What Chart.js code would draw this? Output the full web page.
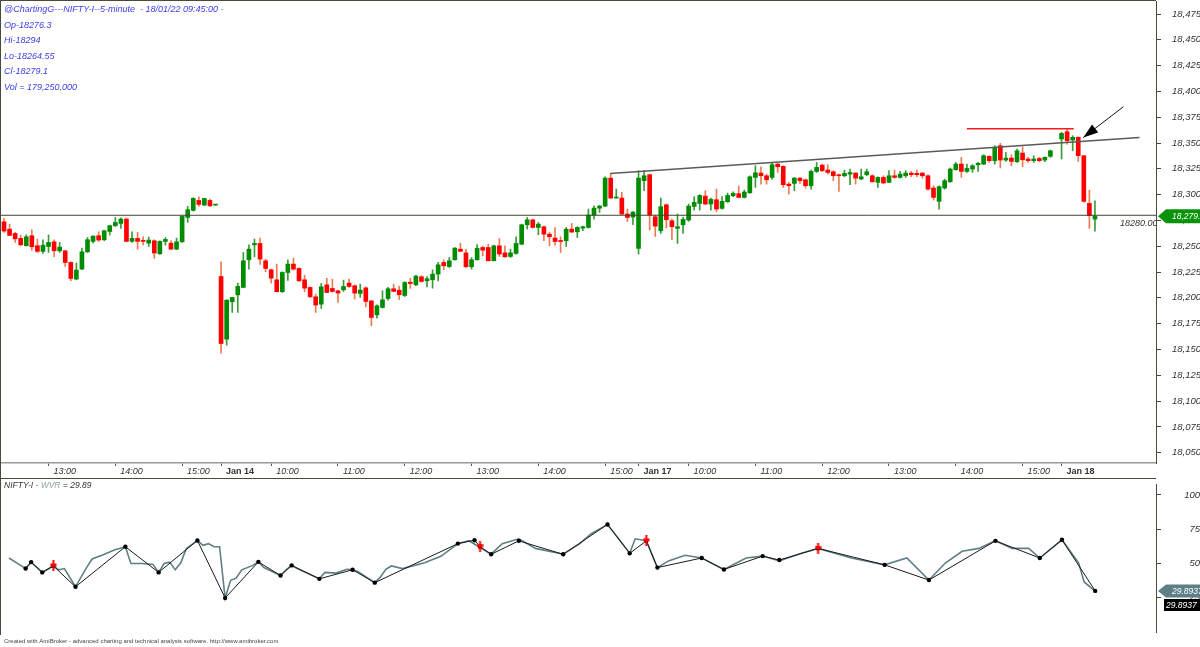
<!DOCTYPE html>
<html>
<head>
<meta charset="utf-8">
<script src="https://cdn.jsdelivr.net/npm/chart.js@4.4.1/dist/chart.umd.min.js"></script>
<style>
html, body { margin: 0; padding: 0; background: #fff; }
#wrap { position: relative; width: 1200px; height: 647px; overflow: hidden; }
canvas { position: absolute; left: 0; }
#price { top: 0; }
#wvr { top: 478px; }
</style>
</head>
<body>
<div id="wrap">
<canvas id="price" width="1200" height="478"></canvas>
<canvas id="wvr" width="1200" height="169"></canvas>
</div>
<script>
// 5-minute bars, 13 Jan 12:20 .. 18 Jan 09:45 (slot 189 is empty)
const opens = [18273.7,18266.6,18262.4,18257.6,18250.5,18260.2,18250.5,18245.0,18249.8,18254.3,18245.6,18245.6,18234.3,18218.2,18227.9,18244.6,18254.7,18260.2,18256.3,18264.3,18269.9,18272.1,18276.3,18254.7,18257.6,18255.6,18253.0,18255.3,18242.7,18254.7,18253.0,18247.2,18254.3,18277.9,18284.7,18294.4,18289.9,18294.4,18289.9,
  18220.7,18160.0,18196.2,18202.9,18210.1,18236.9,18251.4,18252.7,18235.9,18227.2,18217.5,18205.9,18224.6,18232.7,18228.5,18217.5,18210.1,18201.0,18193.9,18212.6,18209.1,18206.8,18207.8,18214.3,18211.7,18204.3,18209.7,18197.1,18183.6,18190.7,18199.4,18208.8,18207.5,18202.3,18215.2,18212.6,18220.4,18216.5,18217.5,18223.0,18234.3,18230.4,18236.9,18247.2,18243.6,18230.1,18236.9,18248.8,18248.8,18235.9,18250.4,18243.6,18240.1,18243.0,18252.0,18270.8,18275.6,18268.2,18268.9,18261.7,18257.9,18255.3,18255.3,18266.6,18264.0,18267.6,18268.2,18280.2,18286.9,18288.9,18316.0,18296.7,18296.7,18281.2,18278.3,
  18247.9,18313.5,18319.3,18278.6,18265.0,18290.2,18274.7,18267.3,18270.8,18275.4,18288.6,18291.5,18298.6,18290.9,18295.1,18286.7,18293.1,18298.9,18300.9,18297.3,18301.8,18316.7,18320.9,18318.3,18316.7,18329.6,18327.4,18310.2,18310.9,18316.0,18314.4,18308.6,18322.5,18328.6,18323.8,18322.2,18319.3,18318.3,18319.9,18320.9,18315.1,18319.3,18318.3,18311.9,18316.7,18311.9,18318.3,18316.7,18318.3,18320.9,18320.6,18320.9,18318.3,18306.4,18293.5,18306.4,18312.5,18324.1,18329.6,18322.5,18324.8,18329.0,18329.6,18337.1,18332.9,18347.4,18333.5,18335.4,18331.9,18340.3,18334.5,18332.9,18335.1,18333.5,18337.1,null,
  18353.9,18361.0,18352.9,18355.5,18337.7,18291.5,18276.3];
const highs = [18277.0,18271.5,18263.4,18260.8,18261.1,18266.0,18257.0,18256.3,18261.0,18256.3,18253.7,18245.6,18235.0,18233.7,18248.2,18258.5,18260.2,18264.0,18265.6,18270.5,18277.9,18277.6,18277.3,18264.0,18263.4,18259.2,18258.9,18256.3,18255.3,18258.5,18255.6,18257.9,18279.5,18288.6,18297.0,18297.9,18296.6,18295.7,18290.2,
  18235.0,18198.1,18200.4,18214.3,18244.0,18251.4,18257.0,18257.9,18237.5,18227.9,18232.7,18225.3,18236.9,18238.5,18229.4,18222.0,18210.7,18203.6,18214.0,18218.8,18218.1,18207.5,18217.2,18218.1,18212.6,18213.3,18210.7,18197.1,18193.3,18206.8,18210.1,18213.3,18211.3,18215.6,18219.1,18222.0,18221.4,18220.7,18227.2,18234.3,18236.9,18239.1,18248.8,18253.0,18246.9,18239.1,18251.7,18250.1,18252.0,18251.1,18257.5,18250.4,18247.2,18259.2,18271.4,18277.9,18276.3,18273.0,18269.5,18263.4,18268.2,18259.2,18268.2,18272.1,18268.9,18269.5,18286.0,18289.2,18289.6,18317.3,18319.9,18305.4,18302.2,18286.0,18283.7,
  18323.2,18323.2,18319.9,18280.2,18296.7,18290.9,18276.3,18281.2,18277.9,18290.9,18298.0,18299.9,18303.8,18296.7,18305.4,18298.0,18301.5,18302.8,18308.3,18304.4,18318.3,18328.0,18327.0,18319.9,18330.6,18330.3,18328.0,18311.8,18316.7,18316.7,18315.1,18323.8,18331.2,18329.6,18329.0,18323.2,18319.9,18323.8,18324.8,18321.2,18324.8,18324.8,18319.3,18317.3,18318.3,18323.2,18323.8,18322.5,18323.2,18322.5,18323.8,18321.5,18319.3,18308.6,18308.6,18315.1,18325.8,18331.2,18336.1,18329.6,18329.0,18331.2,18338.7,18337.7,18347.4,18349.7,18341.0,18338.7,18344.2,18346.4,18336.1,18337.7,18336.1,18336.7,18343.2,null,
  18360.3,18363.5,18357.1,18356.1,18337.7,18304.4,18294.0];
const lows = [18263.4,18260.2,18253.7,18250.5,18250.2,18246.3,18244.0,18243.0,18244.0,18240.0,18244.0,18230.4,18216.5,18217.5,18227.2,18244.0,18253.0,18254.7,18255.3,18260.8,18269.2,18267.3,18254.3,18253.7,18247.2,18251.4,18249.8,18238.2,18242.0,18251.1,18246.6,18246.6,18253.7,18273.1,18284.1,18288.6,18289.5,18288.3,18289.5,
  18146.5,18154.2,18185.9,18185.9,18210.1,18227.9,18239.8,18232.4,18225.3,18214.3,18205.9,18205.3,18217.0,18226.9,18215.9,18205.9,18200.4,18185.8,18189.7,18204.9,18205.5,18195.5,18206.2,18210.1,18198.8,18200.4,18191.3,18172.9,18180.3,18190.1,18197.8,18205.9,18198.4,18201.3,18209.1,18211.7,18215.2,18210.7,18209.4,18216.5,18227.2,18229.4,18236.6,18245.0,18229.4,18227.8,18236.6,18240.7,18235.9,18235.9,18240.1,18239.1,18239.1,18242.4,18251.4,18266.6,18267.5,18261.1,18255.3,18250.4,18251.1,18244.0,18249.8,18263.4,18258.5,18265.0,18267.6,18276.3,18282.8,18288.3,18296.0,18296.7,18280.5,18274.0,18270.8,
  18242.4,18303.8,18265.7,18259.5,18262.4,18267.6,18256.3,18252.7,18262.4,18274.1,18285.0,18285.0,18290.2,18285.0,18283.4,18286.0,18292.5,18298.0,18297.0,18296.7,18301.2,18307.0,18310.2,18310.2,18315.1,18321.5,18307.0,18300.5,18303.8,18310.9,18306.3,18305.4,18321.5,18322.5,18319.9,18313.5,18303.1,18317.3,18309.6,18310.2,18314.4,18318.3,18311.9,18307.0,18311.0,18311.5,18316.0,18316.0,18316.7,18317.4,18317.4,18316.0,18304.4,18294.7,18286.0,18305.4,18311.9,18323.8,18316.7,18321.5,18321.5,18322.5,18329.0,18331.2,18329.6,18325.8,18332.2,18328.0,18331.2,18327.0,18331.2,18331.2,18331.9,18331.9,18336.1,null,
  18334.5,18349.0,18342.5,18332.2,18292.5,18267.3,18264.55];
const closes = [18264.7,18260.5,18257.2,18251.4,18259.2,18249.5,18245.0,18251.0,18253.7,18245.6,18249.2,18234.3,18218.8,18226.9,18244.6,18256.3,18259.8,18256.0,18265.0,18269.9,18273.1,18276.3,18254.7,18257.6,18254.7,18254.7,18256.0,18243.4,18254.7,18256.6,18247.2,18254.3,18278.9,18285.4,18296.3,18290.5,18296.3,18289.2,18289.9,
  18155.8,18197.8,18200.4,18211.1,18235.9,18247.2,18252.7,18237.5,18228.5,18219.1,18205.9,18224.6,18232.7,18227.8,18216.5,18209.4,18201.0,18193.0,18210.7,18205.2,18206.2,18204.6,18211.0,18211.0,18204.6,18207.5,18196.5,18181.0,18192.3,18198.1,18208.8,18206.2,18203.0,18214.9,18213.9,18221.0,18215.9,18218.5,18223.0,18232.0,18231.1,18235.9,18248.2,18245.0,18230.1,18236.9,18247.9,18246.2,18235.9,18250.4,18242.4,18239.8,18243.6,18252.7,18270.8,18275.6,18268.2,18271.4,18261.7,18259.2,18254.6,18254.6,18266.6,18263.7,18268.2,18268.9,18280.2,18287.0,18288.9,18316.0,18296.7,18297.3,18281.2,18277.9,18283.1,
  18316.0,18318.3,18280.2,18269.5,18288.3,18275.7,18268.9,18268.9,18276.0,18288.9,18292.5,18299.2,18290.9,18295.4,18286.0,18293.5,18299.2,18301.2,18297.3,18302.5,18317.3,18321.2,18318.3,18314.4,18329.0,18327.0,18309.6,18308.6,18316.0,18313.5,18308.6,18322.5,18326.4,18323.1,18321.5,18318.3,18318.3,18320.6,18321.5,18316.0,18317.3,18322.2,18312.5,18316.7,18311.2,18318.3,18316.7,18319.9,18320.9,18319.3,18319.3,18318.3,18305.4,18297.3,18307.7,18313.5,18324.8,18329.6,18322.5,18325.4,18328.0,18330.3,18337.7,18332.9,18345.8,18333.5,18335.4,18332.2,18342.5,18333.8,18332.9,18334.5,18332.9,18336.1,18342.5,null,
  18359.3,18352.2,18355.5,18337.7,18293.5,18279.6,18279.1];

const xTickIdx = [8,20,32,39,48,60,72,84,96,108,114,123,135,147,159,171,183,190];
const xTickLabels = ['13:00','14:00','15:00','Jan 14','10:00','11:00','12:00','13:00','14:00','15:00','Jan 17','10:00','11:00','12:00','13:00','14:00','15:00','Jan 18'];
const yTicks = [18050,18075,18100,18125,18150,18175,18200,18225,18250,18275,18300,18325,18350,18375,18400,18425,18450,18475];

// drawn studies (bar index, price)
const levelLine = 18280;
const trendIdx = [108.9, 204];
const trendVal = [18320.5, 18355.4];
const resistIdx = [173, 192.2];
const resistVal = [18363.8, 18363.8];
const arrowIdx = [201.1, 193.9];
const arrowVal = [18385.1, 18355.3];

const infoLines = ['@ChartingG---NIFTY-I--5-minute  - 18/01/22 09:45:00 -','Op-18276.3','Hi-18294','Lo-18264.55','Cl-18279.1','Vol = 179,250,000'];

// WVR pane
const wvrIdx = [0,3,4,6,8,9,10,12,14,15,17,19,21,22,24,26,27,28,29,30,31,32,34,35,36,37,38,39,40,41,42,44,45,46,49,50,51,52,56,57,59,61,62,63,66,67,68,69,71,
  75,78,81,83,85,87,89,92,95,100,103,105,108,110,112,113,115,117,119,122,125,129,133,136,139,143,146,152,158,162,166,169,172,175,178,181,184,186,190,193,194,196];
const wvrVal = [54,46.3,51,43.5,48.2,45.4,46.3,33,47,53.3,56.3,59.8,62.2,50,50,49.3,43.5,50,51,45.4,50.5,61,66.8,63.3,64.5,62.2,62.2,24.8,37.7,39.3,45.4,48.6,51.2,47,41.2,45.4,48.6,46.3,38.8,43.5,43,45.8,45.4,44,36,40,45.8,48.2,46.3,
  50.5,55.4,64.5,66.6,61.7,56.8,64.5,68,61,56.8,64.5,71.5,78.5,68,57.5,68,66.6,47,51.9,56,54,45.6,54,55.4,51.9,57.5,61,54,49,54,37.9,50.5,58.9,61,66.6,61,61,54,67.3,50.5,36.5,29.89];
const zzIdx = [3,4,6,8,12,21,27,34,39,45,49,51,56,62,66,81,84,85,87,92,100,108,112,115,117,125,129,136,139,146,158,166,178,186,190,196];
const zzVal = [46.3,51,43.5,48.2,33,62.2,43.5,66.8,24.8,51.2,41.2,48.6,38.8,45.4,36,64.5,67,62.3,56.7,66.5,56.7,78.5,57.4,66.5,47,54,45.6,55.4,52.5,61,49,37.9,66.5,54,67.3,30];
const sigIdx = [8,85,115,146];
const sigVal = [48.2,62.3,66.5,61];
const wvrLast = 29.8937;

const X_MIN = -0.54, X_MAX = 206.97;
const FONT = "'Liberation Sans', Arial, sans-serif";
Chart.defaults.font.family = FONT;
Chart.defaults.animation = false;
Chart.defaults.responsive = false;

const AXIS = '#4a4a3c';

const bodies = [], wicks = [];
opens.forEach((o, i) => {
  if (o == null) return;
  const c = closes[i];
  bodies.push({x: i, y: [Math.min(o, c), Math.max(o, c)], up: c >= o});
  wicks.push({x: i, y: [lows[i], highs[i]], up: c >= o});
});

function pts(xs, ys) { return xs.map((x, i) => ({x: x, y: ys[i]})); }

function tag(ctx, x0, yc, h, fill, text, pointy) {
  ctx.save();
  ctx.fillStyle = fill;
  ctx.beginPath();
  if (pointy) {
    ctx.moveTo(x0, yc);
    ctx.lineTo(x0 + 8, yc - h / 2);
    ctx.lineTo(1200, yc - h / 2);
    ctx.lineTo(1200, yc + h / 2);
    ctx.lineTo(x0 + 8, yc + h / 2);
  } else {
    ctx.rect(x0, yc - h / 2, 1200 - x0, h);
  }
  ctx.closePath();
  ctx.fill();
  ctx.fillStyle = '#fff';
  ctx.font = 'italic 8.5px ' + FONT;
  ctx.textBaseline = 'middle';
  ctx.fillText(text, x0 + (pointy ? 14 : 2), yc + 0.5);
  ctx.restore();
}

const priceDeco = {
  id: 'priceDeco',
  afterDraw(chart) {
    const ctx = chart.ctx, x = chart.scales.x, y = chart.scales.y, a = chart.chartArea;
    ctx.save();
    // info block
    ctx.fillStyle = '#3c3ce6';
    ctx.font = 'italic 9px ' + FONT;
    ctx.textBaseline = 'middle';
    infoLines.forEach((t, i) => ctx.fillText(t, 4, 9.5 + i * 15.5));
    // level label
    ctx.fillStyle = '#333';
    ctx.font = 'italic 9px ' + FONT;
    ctx.beginPath();
    ctx.rect(a.left, a.top, a.right - a.left, a.bottom - a.top);
    ctx.clip();
    ctx.fillText('18280.00', 1120, y.getPixelForValue(levelLine) + 8.5);
    ctx.restore();
    // arrow head
    const x1 = x.getPixelForValue(arrowIdx[0]), y1 = y.getPixelForValue(arrowVal[0]);
    const x2 = x.getPixelForValue(arrowIdx[1]), y2 = y.getPixelForValue(arrowVal[1]);
    const ang = Math.atan2(y2 - y1, x2 - x1);
    ctx.save();
    ctx.translate(x2, y2);
    ctx.rotate(ang);
    ctx.fillStyle = '#000';
    ctx.beginPath();
    ctx.moveTo(0, 0);
    ctx.lineTo(-15, -5);
    ctx.lineTo(-15, 5);
    ctx.closePath();
    ctx.fill();
    ctx.restore();
    // last price tag
    tag(ctx, 1158, y.getPixelForValue(closes[closes.length - 1]), 14, '#0a920a', '18,279.1', true);
    // frame
    ctx.save();
    ctx.strokeStyle = AXIS;
    ctx.lineWidth = 1;
    ctx.beginPath();
    ctx.moveTo(0.5, 0); ctx.lineTo(0.5, 478);
    ctx.moveTo(0, 0.5); ctx.lineTo(a.right, 0.5);
    ctx.stroke();
    ctx.restore();
  }
};

new Chart(document.getElementById('price'), {
  type: 'bar',
  data: {
    datasets: [
      {type: 'line', data: [{x: X_MIN, y: levelLine}, {x: X_MAX, y: levelLine}], borderColor: '#3e4430', borderWidth: 1, pointRadius: 0, order: 1},
      {type: 'line', data: pts(trendIdx, trendVal), borderColor: '#5a5a5a', borderWidth: 1.5, pointRadius: 0, order: 1},
      {type: 'line', data: pts(resistIdx, resistVal), borderColor: '#ff1a1a', borderWidth: 1.5, pointRadius: 0, order: 1},
      {type: 'line', data: pts(arrowIdx, arrowVal), borderColor: '#111', borderWidth: 1, pointRadius: 0, order: 1},
      {data: bodies, grouped: false, barThickness: 4, minBarLength: 1, order: 2,
       backgroundColor: c => c.raw && c.raw.up ? '#008c00' : '#ff0000'},
      {data: wicks, grouped: false, barThickness: 1, order: 3,
       backgroundColor: c => c.raw && c.raw.up ? '#3a9c3a' : '#ee7a50'}
    ]
  },
  options: {
    layout: {padding: {left: 1, top: 1, right: 0, bottom: 0}},
    plugins: {legend: {display: false}, tooltip: {enabled: false}},
    scales: {
      x: {
        type: 'linear', min: X_MIN, max: X_MAX, offset: false,
        afterBuildTicks: s => { s.ticks = xTickIdx.map(v => ({value: v})); },
        afterFit: s => { s.height = 15; s.paddingLeft = 0; s.paddingRight = 0; },
        grid: {drawOnChartArea: false, offset: false, tickLength: 3, color: '#555'},
        border: {color: '#9a9a9a', width: 1.5},
        ticks: {
          autoSkip: false, maxRotation: 0, align: 'start', padding: 0, color: '#333',
          font: c => xTickLabels[c.index] && xTickLabels[c.index].startsWith('Jan')
            ? {size: 9, weight: 'bold', family: FONT} : {size: 9, style: 'italic', family: FONT},
          callback: (v, i) => '  ' + xTickLabels[i]
        }
      },
      y: {
        position: 'right', min: 18040, max: 18487.6,
        afterBuildTicks: s => { s.ticks = yTicks.map(v => ({value: v})); },
        afterFit: s => { s.width = 44; s.paddingTop = 0; s.paddingBottom = 0; },
        grid: {drawOnChartArea: false, tickLength: 5, color: AXIS},
        border: {color: AXIS},
        ticks: {padding: 11, color: '#333', font: {size: 9.5, style: 'italic'},
                callback: v => v.toLocaleString('en-US')}
      }
    }
  },
  plugins: [priceDeco]
});

// signal marker for the WVR pane
const sig = document.createElement('canvas');
sig.width = 7; sig.height = 11;
(function () {
  const g = sig.getContext('2d');
  g.fillStyle = '#ff0000';
  g.fillRect(2.5, 0, 2, 11);
  g.fillRect(0.5, 3, 6, 3);
})();

const wvrDeco = {
  id: 'wvrDeco',
  afterDraw(chart) {
    const ctx = chart.ctx, y = chart.scales.y, a = chart.chartArea;
    ctx.save();
    ctx.font = 'italic 8.5px ' + FONT;
    ctx.textBaseline = 'middle';
    let px = 4;
    [['NIFTY-I - ', '#333'], ['WVR', '#8fa6ad'], [' = 29.89', '#333']].forEach(p => {
      ctx.fillStyle = p[1];
      ctx.fillText(p[0], px, 7.5);
      px += ctx.measureText(p[0]).width;
    });
    ctx.fillStyle = '#444';
    ctx.font = '6px ' + FONT;
    ctx.fillText('Created with AmiBroker - advanced charting and technical analysis software. http://www.amibroker.com', 4, 163);
    ctx.strokeStyle = AXIS;
    ctx.lineWidth = 1;
    ctx.beginPath();
    ctx.moveTo(0.5, 0); ctx.lineTo(0.5, 157);
    ctx.moveTo(0, 0.5); ctx.lineTo(a.right, 0.5);
    ctx.stroke();
    ctx.restore();
    const yc = y.getPixelForValue(wvrLast);
    tag(ctx, 1158, yc, 13, '#5f7f86', '29.8937', true);
    tag(ctx, 1164, yc + 14, 12, '#000', '29.8937', false);
  }
};

new Chart(document.getElementById('wvr'), {
  type: 'line',
  data: {
    datasets: [
      {data: pts(sigIdx, sigVal), showLine: false, pointStyle: sig, pointRadius: 5, order: 0},
      {data: pts(zzIdx, zzVal), borderColor: '#1a1a1a', borderWidth: 1, pointRadius: 2.2,
       pointBackgroundColor: '#000', pointBorderWidth: 0, order: 1},
      {data: pts(wvrIdx, wvrVal), borderColor: '#5f7f86', borderWidth: 1.6, pointRadius: 0, order: 2}
    ]
  },
  options: {
    layout: {padding: {left: 1, top: 0, right: 0, bottom: 15}},
    plugins: {legend: {display: false}, tooltip: {enabled: false}},
    scales: {
      x: {type: 'linear', min: X_MIN, max: X_MAX, display: false},
      y: {
        position: 'right', min: 0, max: 108,
        afterBuildTicks: s => { s.ticks = [25, 50, 75, 100].map(v => ({value: v})); },
        afterFit: s => { s.width = 44; s.paddingTop = 0; s.paddingBottom = 0; },
        grid: {drawOnChartArea: false, tickLength: 5, color: AXIS},
        border: {color: AXIS},
        ticks: {padding: 13, crossAlign: 'far', color: '#333', font: {size: 9.5, style: 'italic'}}
      }
    }
  },
  plugins: [wvrDeco]
});
</script>
</body>
</html>
